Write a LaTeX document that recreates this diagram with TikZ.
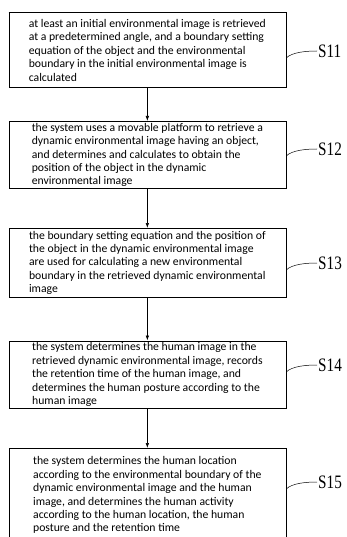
\documentclass[tikz,border=0pt]{standalone}
\usepackage{fontspec}
\setmainfont{Carlito}
\newfontfamily\labfont[FakeStretch=0.8]{Liberation Serif}
\usetikzlibrary{arrows.meta}
\tikzset{
  stepbox/.style={draw, line width=0.7pt, minimum width=277pt, align=left, inner sep=0pt,
    font=\fontsize{11.7}{13.4}\selectfont, anchor=north west},
  flow/.style={draw, line width=0.6pt, -{Latex[length=5pt,width=3.5pt]}},
  lead/.style={draw, line width=0.5pt},
  steplabel/.style={font=\labfont\fontsize{19}{19}\selectfont, anchor=west, inner sep=0pt}
}
\begin{document}
\begin{tikzpicture}[x=1pt,y=-1pt]
\useasboundingbox (0,0) rectangle (346,537);
\clip (0,0) rectangle (346,537);
\node[stepbox, minimum height=75pt] (b1) at (8.5,12.5) {at least an initial environmental image is retrieved\\at a predetermined angle, and a boundary setting\\equation of the object and the environmental\\boundary in the initial environmental image is\\calculated};
\node[stepbox, minimum height=67.5pt] (b2) at (8.5,121) {the system uses a movable platform to retrieve a\\dynamic environmental image having an object,\\and determines and calculates to obtain the\\position of the object in the dynamic\\environmental image};
\node[stepbox, minimum height=69pt] (b3) at (8.5,228) {the boundary setting equation and the position of\\the object in the dynamic environmental image\\are used for calculating a new environmental\\boundary in the retrieved dynamic environmental\\image};
\node[stepbox, minimum height=67.5pt] (b4) at (8.5,340.5) {the system determines the human image in the\\retrieved dynamic environmental image, records\\the retention time of the human image, and\\determines the human posture according to the\\human image};
\node[stepbox, minimum height=94pt] (b5) at (8.5,448) {the system determines the human location\\according to the environmental boundary of the\\dynamic environmental image and the human\\image, and determines the human activity\\according to the human location, the human\\posture and the retention time};
\draw[line width=1.4pt] (b1.north west) -- (b1.north east);
\draw[flow] (b1.south) -- (b2.north);
\draw[flow] (b2.south) -- (b3.north);
\draw[flow] (b3.south) -- (b4.north);
\draw[flow] (b4.south) -- (b5.north);
\node[steplabel] (s1) at (318,51) {S11};
\node[steplabel] (s2) at (318,149) {S12};
\node[steplabel] (s3) at (318,263) {S13};
\node[steplabel] (s4) at (318,365) {S14};
\node[steplabel] (s5) at (318,482) {S15};
\foreach \b/\s in {b1/s1,b2/s2,b3/s3,b4/s4,b5/s5}{
  \path (\b.east |- \s.west) coordinate (l\s);
  \draw[lead] ([yshift=-7pt]l\s) .. controls +(6,-6) and +(-10,0) .. ([xshift=-1pt]\s.west);
}
\end{tikzpicture}
\end{document}
